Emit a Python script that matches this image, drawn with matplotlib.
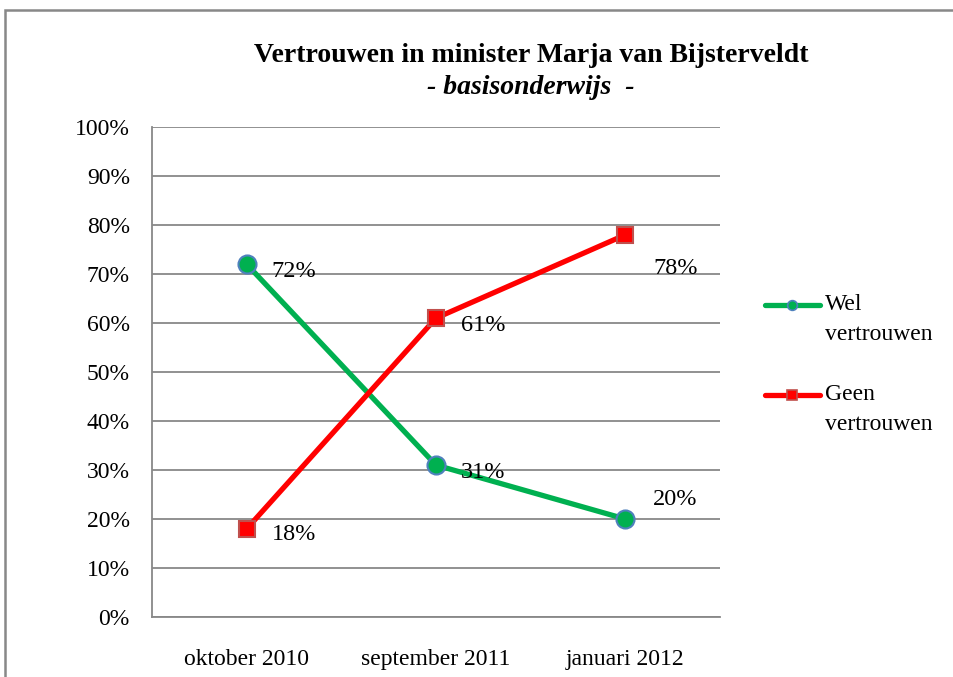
import matplotlib
matplotlib.use("Agg")
import matplotlib.pyplot as plt
from matplotlib.patches import Rectangle
from matplotlib.lines import Line2D

# data
categories = ["oktober 2010", "september 2011", "januari 2012"]
wel_vertrouwen = [72, 31, 20]
geen_vertrouwen = [18, 61, 78]
series_names = ["Wel", "Geen"]
y_ticks = [0, 10, 20, 30, 40, 50, 60, 70, 80, 90, 100]
y_labels = ["%d%%" % v for v in y_ticks]

plt.rcParams['font.family'] = ['Liberation Serif', 'DejaVu Serif']

W, H = 954, 677
fig = plt.figure(figsize=(W / 100, H / 100), dpi=100)
ax = fig.add_axes([152/W, 1 - 617/H, 568/W, 490/H])

green = "#00B050"
red = "#FF0000"
styles = [
    dict(color=green, marker="o", markerfacecolor=green, markeredgecolor="#4F81BD"),
    dict(color=red, marker="s", markerfacecolor=red, markeredgecolor="#C0504D"),
]

x = list(range(len(categories)))
ax.plot(x, wel_vertrouwen, linewidth=3.8, markersize=13, markeredgewidth=1.5,
        zorder=3, **styles[0])
ax.plot(x, geen_vertrouwen, linewidth=3.8, markersize=12, markeredgewidth=1.5,
        zorder=3, **styles[1])

# data labels (offsets in points)
wel_off = [(18, -5), (18, -5), (20, 14)]
geen_off = [(18, -4), (18, -5), (20, -24)]
for i, v in enumerate(wel_vertrouwen):
    ax.annotate("%d%%" % v, (x[i], v), xytext=wel_off[i], textcoords="offset points",
                fontsize=17.5, va="center", ha="left")
for i, v in enumerate(geen_vertrouwen):
    ax.annotate("%d%%" % v, (x[i], v), xytext=geen_off[i], textcoords="offset points",
                fontsize=17.5, va="center", ha="left")

ax.set_xlim(-0.5, 2.5)
ax.set_ylim(0, 100)
ax.set_xticks(x)
ax.set_xticklabels(categories, fontsize=17)
ax.set_yticks(y_ticks)
ax.set_yticklabels(y_labels, fontsize=17)
ax.tick_params(axis="both", length=0)
ax.tick_params(axis="x", pad=23)
ax.tick_params(axis="y", pad=16)
ax.grid(axis="y", color="#888888", linewidth=1.3)
ax.set_axisbelow(True)
for s in ["top", "right"]:
    ax.spines[s].set_visible(False)
for s in ["left", "bottom"]:
    ax.spines[s].set_color("#888888")
    ax.spines[s].set_linewidth(1.3)

# legend drawn by hand: handle sits on the first text line like in Excel
leg_rows = [305, 395]
leg_ms = [7, 6.5]
for k, name in enumerate(series_names):
    yy = 1 - leg_rows[k] / H
    fig.add_artist(Line2D([765/W, 820/W], [yy, yy], linewidth=3.8,
                          color=styles[k]["color"], solid_capstyle="round"))
    fig.add_artist(Line2D([792/W], [yy], linestyle="none", markersize=leg_ms[k],
                          markeredgewidth=1.2, **styles[k]))
    fig.text(825/W, yy, name, fontsize=17, va="center", ha="left")
    fig.text(825/W, yy - 29/H, "vertrouwen", fontsize=17, va="center", ha="left")

fig.text(531/W, 1 - 55/H, "Vertrouwen in minister Marja van Bijsterveldt",
         ha="center", va="center", fontsize=20, fontweight="bold")
fig.text(531/W, 1 - 87/H, "- basisonderwijs  -",
         ha="center", va="center", fontsize=20, fontweight="bold", style="italic")

fig.patches.append(Rectangle((5/W, -0.05), 1.2, 1 - 10/H + 0.05,
                             transform=fig.transFigure, fill=False,
                             edgecolor="#888888", linewidth=1.8))

fig.savefig("out.png", dpi=100)
